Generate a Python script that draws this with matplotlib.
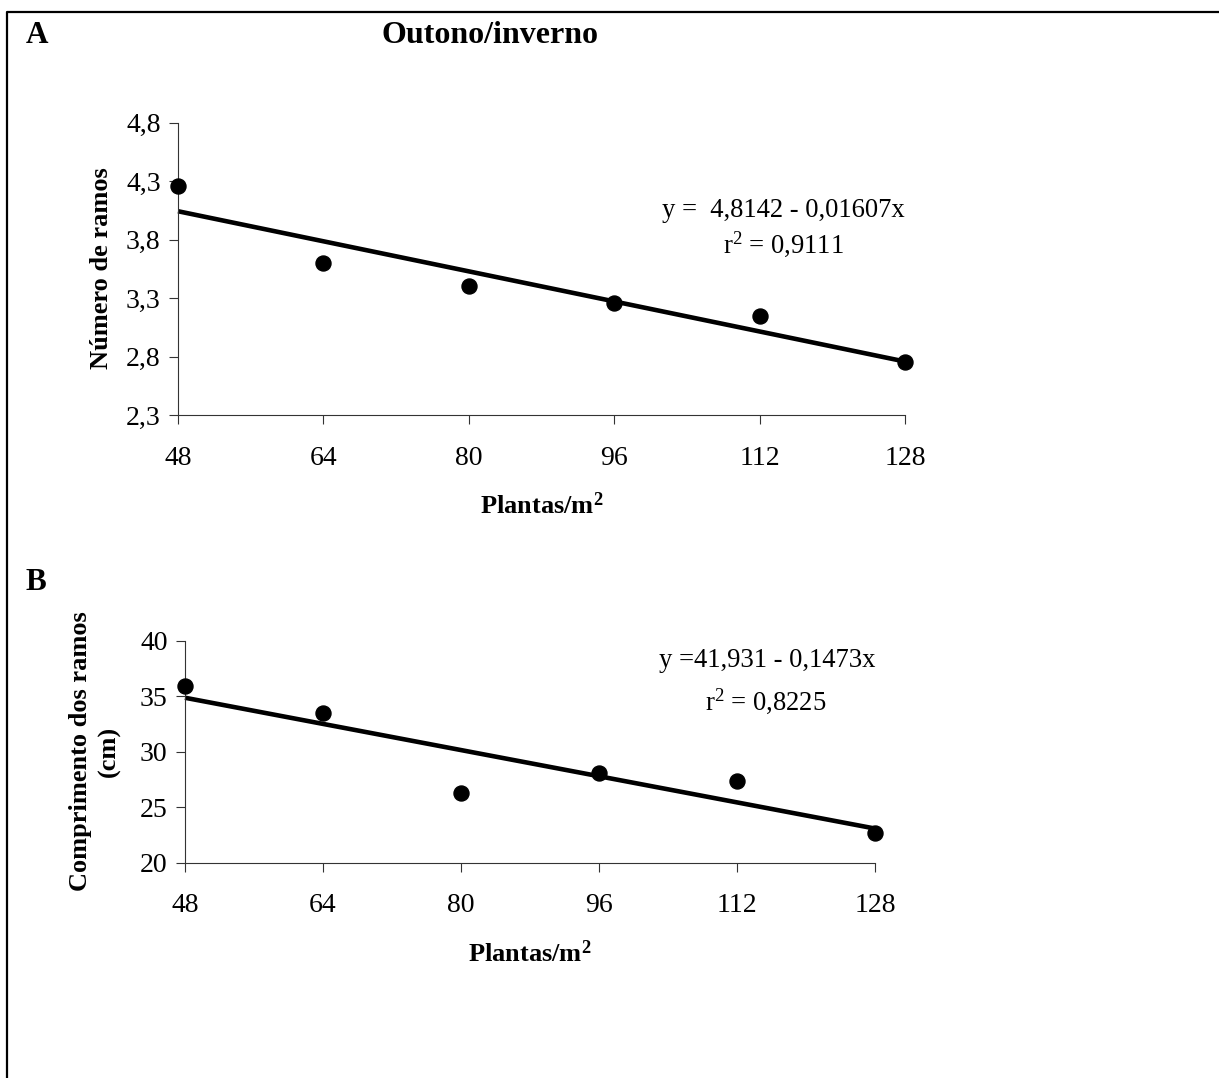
import numpy as np
import matplotlib
matplotlib.use('Agg')
import matplotlib.pyplot as plt
from matplotlib.lines import Line2D

plt.rcParams['font.family'] = ['Liberation Serif', 'DejaVu Serif']
plt.rcParams['mathtext.default'] = 'regular'

# densidade de plantas
plantas = [48, 64, 80, 96, 112, 128]

# A - numero de ramos
ramos = [4.26, 3.60, 3.40, 3.255, 3.15, 2.75]
a0_ramos, a1_ramos = 4.8142, -0.01607
yticks_a = [2.3, 2.8, 3.3, 3.8, 4.3, 4.8]
ylabels_a = ['2,3', '2,8', '3,3', '3,8', '4,3', '4,8']

# B - comprimento dos ramos
comprimento = [35.9, 33.5, 26.3, 28.05, 27.35, 22.7]
a0_comp, a1_comp = 41.931, -0.1473
yticks_b = [20, 25, 30, 35, 40]
ylabels_b = ['20', '25', '30', '35', '40']

xticks = [48, 64, 80, 96, 112, 128]

W, H = 1219, 1078
fig = plt.figure(figsize=(W / 100, H / 100), dpi=100)

def px(x, y):
    # pixel -> fracao da figura
    return x / W, 1 - y / H

def estilo(ax, yticks, ylabels, ylim):
    for s in ['top', 'right']:
        ax.spines[s].set_visible(False)
    for s in ['left', 'bottom']:
        ax.spines[s].set_linewidth(0.8)
        ax.spines[s].set_color('#333333')
    ax.set_xlim(48, 128)
    ax.set_ylim(*ylim)
    ax.set_xticks(xticks)
    ax.set_xticklabels([str(v) for v in xticks])
    ax.set_yticks(yticks)
    ax.set_yticklabels(ylabels)
    ax.tick_params(axis='both', direction='out', length=6.5, width=0.8,
                   color='#333333', labelsize=20)
    ax.tick_params(axis='y', pad=6)
    ax.tick_params(axis='x', pad=15.5)
    ax.set_xlabel(r'Plantas/m$^{2}$', fontsize=19, fontweight='bold', labelpad=16)

def painel(ax, y, a0, a1):
    x = np.array(plantas)
    ax.plot(x, a0 + a1 * x, color='black', lw=3.3, solid_capstyle='butt', clip_on=False)
    ax.plot(x, y, 'o', color='black', ms=10.8, clip_on=False, zorder=3)

# painel A
l, b = px(178, 415)
r, t = px(905, 122.7)
axA = fig.add_axes([l, b, r - l, t - b])
painel(axA, ramos, a0_ramos, a1_ramos)
estilo(axA, yticks_a, ylabels_a, (2.3, 4.8))

# painel B
l, b = px(185, 862.7)
r, t = px(875, 640.7)
axB = fig.add_axes([l, b, r - l, t - b])
painel(axB, comprimento, a0_comp, a1_comp)
estilo(axB, yticks_b, ylabels_b, (20, 40))

# rotulos dos eixos y
fig.text(*px(102, 268), 'Número de ramos', rotation=90, ha='center', va='center',
         fontsize=19, fontweight='bold')
fig.text(*px(95, 751), 'Comprimento dos ramos\n(cm)', rotation=90, ha='center',
         va='center', multialignment='center', fontsize=19, fontweight='bold',
         linespacing=1.35)

# letras e titulo
fig.text(*px(26, 42.7), 'A', fontsize=22.5, fontweight='bold', va='baseline')
fig.text(*px(490, 42.7), 'Outono/inverno', fontsize=23, fontweight='bold',
         va='baseline', ha='center')
fig.text(*px(26, 590), 'B', fontsize=22.5, fontweight='bold', va='baseline')

# equacoes
fig.text(*px(783, 217), 'y =  4,8142 - 0,01607x', fontsize=19.2, ha='center', va='baseline')
fig.text(*px(783, 253), r'r$^{2}$ = 0,9111', fontsize=19.2, ha='center', va='baseline')
fig.text(*px(767, 667), 'y =41,931 - 0,1473x', fontsize=19.2, ha='center', va='baseline')
fig.text(*px(766, 710), r'r$^{2}$ = 0,8225', fontsize=19.2, ha='center', va='baseline')

# moldura (apenas topo e esquerda visiveis)
x0, y0 = px(7, 12)
fig.add_artist(Line2D([x0, x0, 1.0], [0.0, y0, y0], color='black', lw=1.6,
                      transform=fig.transFigure))

fig.savefig('out.png', dpi=100)
